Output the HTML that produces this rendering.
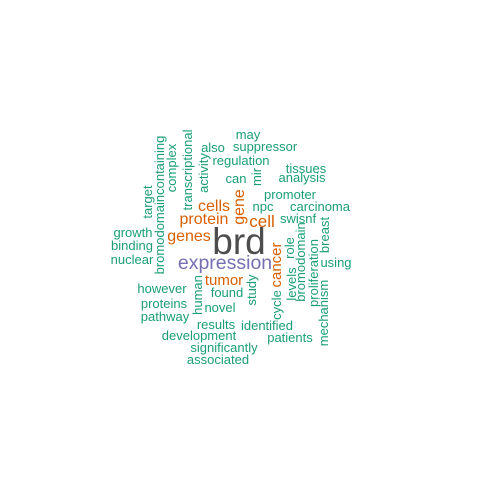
<!DOCTYPE html>
<html><head><meta charset="utf-8"><style>
html,body{margin:0;padding:0;background:#fff;}
svg{display:block;}
text{font-family:"Liberation Sans",sans-serif;}
.g{fill:#1b9e77;font-size:13px;}
.o{fill:#d95f02;}
</style></head><body>
<svg width="480" height="480">
<g text-anchor="middle">
<text class="g" x="248" y="139">may</text>
<text class="g" x="265" y="151">suppressor</text>
<text class="g" x="213" y="152">also</text>
<text class="g" x="241" y="165">regulation</text>
<text class="g" x="306" y="173">tissues</text>
<text class="g" x="302" y="182">analysis</text>
<text class="g" x="236" y="183">can</text>
<text class="g" x="290" y="199">promoter</text>
<text class="o" style="font-size:16px" x="214" y="211">cells</text>
<text class="g" x="263" y="211">npc</text>
<text class="g" x="320" y="211">carcinoma</text>
<text class="o" style="font-size:16px" x="204" y="224">protein</text>
<text class="o" style="font-size:17px" x="262" y="227">cell</text>
<text class="g" x="298" y="223">swisnf</text>
<text class="o" style="font-size:16px" x="189" y="241">genes</text>
<text style="font-size:37px;fill:#4d4d4d" x="239" y="254">brd</text>
<text class="g" x="133" y="237">growth</text>
<text class="g" x="132" y="250">binding</text>
<text class="g" x="132" y="264">nuclear</text>
<text style="font-size:19.5px;fill:#7570b3" x="225" y="269">expression</text>
<text class="g" x="336" y="267">using</text>
<text class="o" style="font-size:15px" x="224" y="285">tumor</text>
<text class="g" x="162" y="293">however</text>
<text class="g" x="227" y="297">found</text>
<text class="g" x="164" y="308">proteins</text>
<text class="g" x="220" y="312">novel</text>
<text class="g" x="165" y="321">pathway</text>
<text class="g" x="216" y="329">results</text>
<text class="g" x="267" y="330">identified</text>
<text class="g" x="199" y="340">development</text>
<text class="g" x="290" y="342">patients</text>
<text class="g" x="224" y="352">significantly</text>
<text class="g" x="218" y="364">associated</text>
</g>
<g text-anchor="middle">
<text class="g" transform="translate(164,205) rotate(-90)">bromodomaincontaining</text>
<text class="g" transform="translate(152,202) rotate(-90)">target</text>
<text class="g" transform="translate(176,168) rotate(-90)">complex</text>
<text class="g" transform="translate(192,170) rotate(-90)">transcriptional</text>
<text class="g" transform="translate(208,173) rotate(-90)">activity</text>
<text class="g" transform="translate(261,177) rotate(-90)">mir</text>
<text class="o" style="font-size:16px" transform="translate(244,207) rotate(-90)">gene</text>
<text class="o" style="font-size:15px" transform="translate(281,265) rotate(-90)">cancer</text>
<text class="g" transform="translate(294,248) rotate(-90)">role</text>
<text class="g" transform="translate(329,235) rotate(-90)">breast</text>
<text class="g" transform="translate(305,262) rotate(-90)">bromodomain</text>
<text class="g" transform="translate(318,273) rotate(-90)">proliferation</text>
<text class="g" transform="translate(296,284) rotate(-90)">levels</text>
<text class="g" transform="translate(281,305) rotate(-90)">cycle</text>
<text class="g" transform="translate(256,290) rotate(-90)">study</text>
<text class="g" transform="translate(202,295) rotate(-90)">human</text>
<text class="g" transform="translate(328,313) rotate(-90)">mechanism</text>
</g>
</svg>
</body></html>
